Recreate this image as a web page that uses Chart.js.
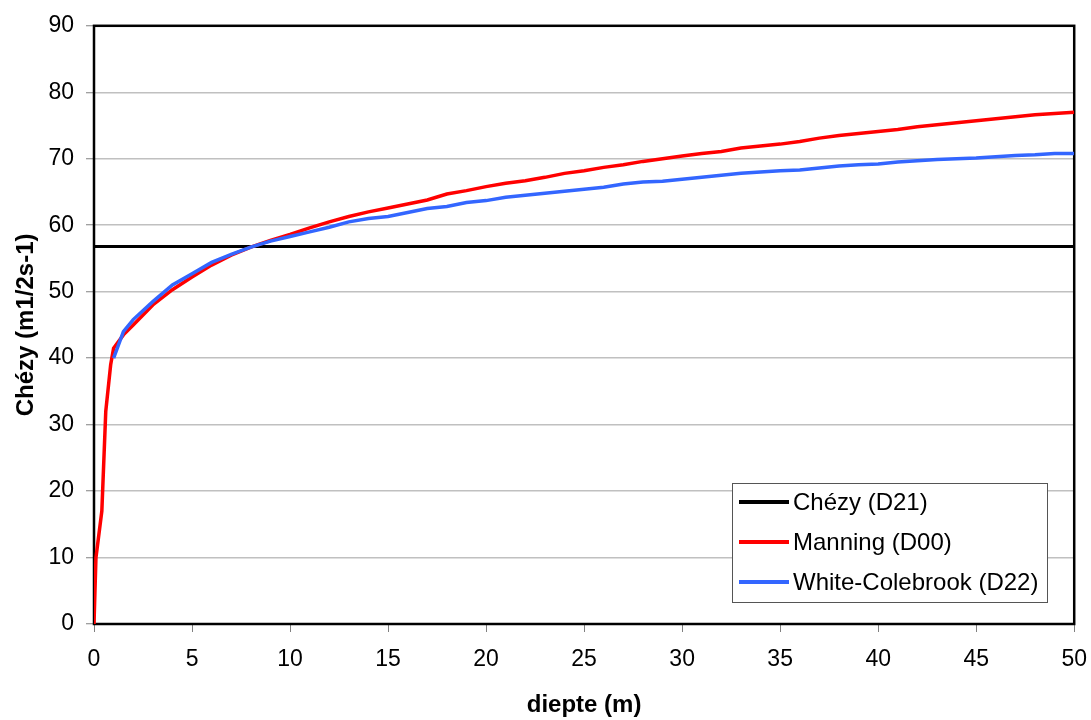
<!DOCTYPE html>
<html>
<head>
<meta charset="utf-8">
<script src="https://cdn.jsdelivr.net/npm/chart.js@4.4.1/dist/chart.umd.min.js"></script>
<style>
  html, body { margin: 0; padding: 0; background: #fff; }
  #wrap { width: 1091px; height: 720px; position: relative; }
</style>
</head>
<body>
<div id="wrap"><canvas id="c" width="1091" height="720"></canvas></div>
<script>
// ---- data ----
const seriesLabels = ["Chézy (D21)", "Manning (D00)", "White-Colebrook (D22)"];
const chezyX = [0, 50];
const chezyY = [56.8, 56.8];
const manningX = [0, 0.1, 0.4, 0.6, 0.85, 1, 1.5, 2, 3, 4, 5, 6, 7, 8, 9, 10, 11, 12, 13, 14, 15, 16, 17, 18, 19, 20, 21, 22, 23, 24, 25, 26, 27, 28, 29, 30, 31, 32, 33, 34, 35, 36, 37, 38, 39, 40, 41, 42, 43, 44, 45, 46, 47, 48, 49, 50];
const manningY = [0, 10, 17, 32, 39, 41.5, 43.5, 45, 48, 50.3, 52.2, 54, 55.5, 56.7, 57.7, 58.6, 59.6, 60.5, 61.3, 62, 62.6, 63.2, 63.8, 64.7, 65.2, 65.8, 66.3, 66.7, 67.2, 67.8, 68.2, 68.7, 69.1, 69.6, 70, 70.4, 70.8, 71.1, 71.6, 71.9, 72.2, 72.6, 73.1, 73.5, 73.8, 74.1, 74.4, 74.8, 75.1, 75.4, 75.7, 76, 76.3, 76.6, 76.8, 77.0];
const wcX = [1, 1.5, 2, 3, 4, 5, 6, 7, 8, 9, 10, 11, 12, 13, 14, 15, 16, 17, 18, 19, 20, 21, 22, 23, 24, 25, 26, 27, 28, 29, 30, 31, 32, 33, 34, 35, 36, 37, 38, 39, 40, 41, 42, 43, 44, 45, 46, 47, 48, 49, 50];
const wcY = [40, 44, 45.8, 48.5, 51, 52.7, 54.4, 55.6, 56.7, 57.6, 58.3, 59, 59.7, 60.5, 61, 61.3, 61.9, 62.5, 62.8, 63.4, 63.7, 64.2, 64.5, 64.8, 65.1, 65.4, 65.7, 66.2, 66.5, 66.6, 66.9, 67.2, 67.5, 67.8, 68, 68.2, 68.3, 68.6, 68.9, 69.1, 69.2, 69.5, 69.7, 69.9, 70, 70.1, 70.3, 70.5, 70.6, 70.8, 70.8];
const xTickStep = 5, xMin = 0, xMax = 50;
const yTickStep = 10, yMin = 0, yMax = 90;
const xTitle = "diepte (m)";
const yTitle = "Chézy (m1/2s-1)";
const seriesColors = ["#000000", "#ff0000", "#3366ff"];

const pts = (xs, ys) => xs.map((x, i) => ({ x: x, y: ys[i] }));
const FONT = "'Liberation Sans', Arial, sans-serif";

const frameAndLegend = {
  id: 'frameAndLegend',
  beforeDatasetsDraw(chart) {
    const { ctx, chartArea: a } = chart;
    ctx.save();
    ctx.strokeStyle = '#000';
    ctx.lineWidth = 2.5;
    ctx.strokeRect(a.left, a.top, a.right - a.left, a.bottom - a.top);
    ctx.restore();
  },
  afterDraw(chart) {
    const { ctx } = chart;
    const bx = 732, by = 483, bw = 315, bh = 119;
    ctx.save();
    ctx.fillStyle = '#fff';
    ctx.fillRect(bx, by, bw, bh);
    ctx.strokeStyle = '#555';
    ctx.lineWidth = 1;
    ctx.strokeRect(bx + 0.5, by + 0.5, bw, bh);
    ctx.font = "24px " + FONT;
    ctx.textBaseline = 'middle';
    ctx.textAlign = 'left';
    chart.data.datasets.forEach((ds, i) => {
      const y = by + 19 + i * 40;
      ctx.strokeStyle = ds.borderColor;
      ctx.lineWidth = 4;
      ctx.beginPath();
      ctx.moveTo(739, y);
      ctx.lineTo(789, y);
      ctx.stroke();
      ctx.fillStyle = '#000';
      ctx.fillText(ds.label, 793, y + 1);
    });
    ctx.restore();
  }
};

new Chart(document.getElementById('c'), {
  type: 'line',
  data: {
    datasets: [
      { label: seriesLabels[0], data: pts(chezyX, chezyY), borderColor: seriesColors[0], borderWidth: 3, pointRadius: 0, order: 3 },
      { label: seriesLabels[1], data: pts(manningX, manningY), borderColor: seriesColors[1], borderWidth: 3.5, pointRadius: 0, order: 2 },
      { label: seriesLabels[2], data: pts(wcX, wcY), borderColor: seriesColors[2], borderWidth: 3.5, pointRadius: 0, order: 1 }
    ]
  },
  options: {
    responsive: false,
    animation: false,
    layout: { padding: { top: 25, right: 15, left: 0, bottom: 0 } },
    plugins: { legend: { display: false }, tooltip: { enabled: false } },
    elements: { line: { tension: 0 } },
    scales: {
      x: {
        type: 'linear', min: xMin, max: xMax,
        afterFit: (s) => { s.height = 96; },
        ticks: { stepSize: xTickStep, color: '#000', font: { family: FONT, size: 23, lineHeight: '48px' }, padding: 4, maxRotation: 0 },
        grid: { drawOnChartArea: false, drawTicks: true, tickLength: 8, tickColor: '#808080', tickWidth: 1 },
        border: { display: false },
        title: { display: true, text: xTitle, color: '#000', font: { family: FONT, size: 24, weight: 'bold' }, padding: { top: 0, bottom: 0 } }
      },
      y: {
        min: yMin, max: yMax,
        afterFit: (s) => { s.width = 94; },
        ticks: { stepSize: yTickStep, color: '#000', font: { family: FONT, size: 23 }, padding: 12 },
        grid: { color: '#c0c0c0', lineWidth: 1.5, drawTicks: true, tickLength: 8, tickColor: '#808080', tickWidth: 1 },
        border: { display: false },
        title: { display: true, text: yTitle, color: '#000', font: { family: FONT, size: 24, weight: 'bold' }, padding: { top: 12, bottom: 0 } }
      }
    }
  },
  plugins: [frameAndLegend]
});
</script>
</body>
</html>
